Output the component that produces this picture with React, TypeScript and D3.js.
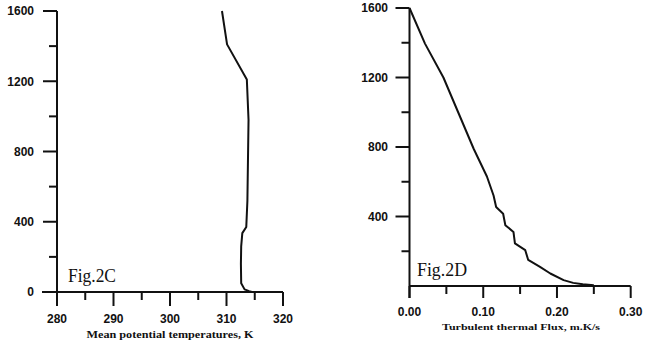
import React from "react";
import * as d3 from "d3";

// Fig.2C: mean potential temperature profile
const tempHeights = [1600, 1410, 1210, 980, 520, 370, 335, 260, 160, 50, 15, 5, 0];
const tempValues = [309.2, 310.1, 313.6, 313.9, 313.7, 313.5, 312.8, 312.6, 312.55, 312.6, 313.2, 314.0, 314.5];
const tempXTicks = [280, 290, 300, 310, 320];
const tempXMinor = [285, 295, 305, 315];
const heightTicks = [0, 400, 800, 1200, 1600];
const heightMinor = [200, 600, 1000, 1400];

// Fig.2D: turbulent thermal flux profile
const fluxHeights = [1600, 1395, 1200, 1000, 790, 630, 521, 455, 416, 350, 311, 245, 206, 150, 110, 72, 34, 18, 10, 5];
const fluxValues = [0, 0.021, 0.046, 0.066, 0.087, 0.105, 0.114, 0.1175, 0.127, 0.13, 0.141, 0.143, 0.157, 0.161, 0.177, 0.191, 0.209, 0.222, 0.235, 0.25];
const fluxXTicks = [0, 0.1, 0.2, 0.3];
const fluxXMinor = [0.05, 0.15, 0.25];
const fluxYTicks = [400, 800, 1200, 1600];

const INK = "#111";
const tickFont = "'Liberation Sans', Arial, sans-serif";
const serif = "'Liberation Serif', 'Times New Roman', serif";

export default function App() {
  // left panel scales
  const xL = d3.scaleLinear().domain([280, 320]).range([57, 283]);
  const yL = d3.scaleLinear().domain([0, 1600]).range([292, 11]);
  // right panel scales
  const xR = d3.scaleLinear().domain([0, 0.3]).range([409.5, 630.7]);
  const yR = d3.scaleLinear().domain([0, 1600]).range([286, 8]);

  const lineL = d3
    .line<number>()
    .x((_, i) => xL(tempValues[i]))
    .y((h) => yL(h))
    .curve(d3.curveLinear);
  const lineR = d3
    .line<number>()
    .x((_, i) => xR(fluxValues[i]))
    .y((h) => yR(h))
    .curve(d3.curveLinear);

  return (
    <svg
      width={647}
      height={344}
      style={{ position: "absolute", left: 0, top: 0, background: "#fff" }}
    >
      <rect x={0} y={0} width={647} height={344} fill="#fff" />

      {/* ---------- Left panel ---------- */}
      <g stroke={INK} strokeWidth={2} fill="none">
        <line x1={xL(280)} x2={xL(280)} y1={yL(1600)} y2={yL(0) + 14} />
        <line x1={42} x2={xL(320)} y1={yL(0)} y2={yL(0)} />
        {heightTicks.map((t) => (
          <line key={"ly" + t} x1={xL(280) - 14} x2={xL(280)} y1={yL(t)} y2={yL(t)} />
        ))}
        {heightMinor.map((t) => (
          <line key={"lym" + t} x1={xL(280) - 8} x2={xL(280)} y1={yL(t)} y2={yL(t)} />
        ))}
        {tempXTicks.map((t) => (
          <line key={"lx" + t} x1={xL(t)} x2={xL(t)} y1={yL(0)} y2={yL(0) + 14} />
        ))}
        {tempXMinor.map((t) => (
          <line key={"lxm" + t} x1={xL(t)} x2={xL(t)} y1={yL(0)} y2={yL(0) + 8} />
        ))}
        <path d={lineL(tempHeights) || ""} strokeWidth={2} strokeLinejoin="round" />
      </g>
      <g fontFamily={tickFont} fontWeight="900" fontSize={12} fill={INK}>
        {heightTicks.map((t) => (
          <text key={"lyl" + t} x={34} y={yL(t)} dy="0.36em" textAnchor="end">
            {t}
          </text>
        ))}
        {tempXTicks.map((t) => (
          <text key={"lxl" + t} x={xL(t)} y={323} textAnchor="middle">
            {t}
          </text>
        ))}
      </g>
      <text
        x={170}
        y={338}
        textAnchor="middle"
        fontFamily={serif}
        fontWeight="bold"
        fontSize={9.5}
        textLength={167}
        lengthAdjust="spacingAndGlyphs"
        fill={INK}
      >
        Mean potential temperatures, K
      </text>
      <text x={68} y={282} fontFamily={serif} fontSize={18} fill={INK} textLength={48} lengthAdjust="spacingAndGlyphs">
        Fig.2C
      </text>

      {/* ---------- Right panel ---------- */}
      <g stroke={INK} strokeWidth={2} fill="none">
        <line x1={xR(0)} x2={xR(0)} y1={yR(1600)} y2={yR(0) + 12} />
        <line x1={xR(0)} x2={xR(0.3)} y1={yR(0)} y2={yR(0)} />
        {fluxYTicks.map((t) => (
          <line key={"ry" + t} x1={xR(0) - 14} x2={xR(0)} y1={yR(t)} y2={yR(t)} />
        ))}
        {heightMinor.map((t) => (
          <line key={"rym" + t} x1={xR(0) - 8} x2={xR(0)} y1={yR(t)} y2={yR(t)} />
        ))}
        {fluxXTicks.map((t) => (
          <line key={"rx" + t} x1={xR(t)} x2={xR(t)} y1={yR(0)} y2={yR(0) + 12} />
        ))}
        {fluxXMinor.map((t) => (
          <line key={"rxm" + t} x1={xR(t)} x2={xR(t)} y1={yR(0)} y2={yR(0) + 8} />
        ))}
        <path d={lineR(fluxHeights) || ""} strokeWidth={2} strokeLinejoin="round" />
      </g>
      <g fontFamily={tickFont} fontWeight="900" fontSize={12} fill={INK}>
        {fluxYTicks.map((t) => (
          <text key={"ryl" + t} x={388} y={yR(t)} dy="0.36em" textAnchor="end">
            {t}
          </text>
        ))}
        {fluxXTicks.map((t) => (
          <text key={"rxl" + t} x={xR(t)} y={316} textAnchor="middle">
            {d3.format(".2f")(t)}
          </text>
        ))}
      </g>
      <text
        x={521}
        y={330}
        textAnchor="middle"
        fontFamily={serif}
        fontWeight="bold"
        fontSize={9}
        textLength={158}
        lengthAdjust="spacingAndGlyphs"
        fill={INK}
      >
        Turbulent thermal Flux, m.K/s
      </text>
      <text x={417} y={276} fontFamily={serif} fontSize={18} fill={INK} textLength={50} lengthAdjust="spacingAndGlyphs">
        Fig.2D
      </text>
    </svg>
  );
}
